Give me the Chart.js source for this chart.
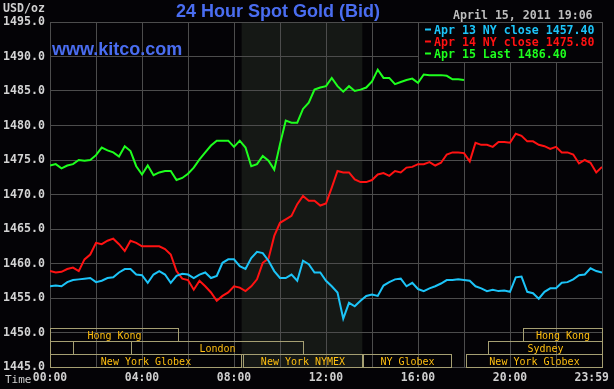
<!DOCTYPE html>
<html>
<head>
<meta charset="utf-8">
<script src="https://cdn.jsdelivr.net/npm/chart.js@4"></script>
<style>
  html, body { margin: 0; padding: 0; background: #040306; }
  canvas { display: block; }
</style>
</head>
<body>
<canvas id="goldChart" width="614" height="389"></canvas>
<script>
// 15 minute samples, hour 0 = 00:00
const minutesPerSample = 15;

const seriesLabels = ['Apr 13 NY close 1457.40', 'Apr 14 NY close 1475.80', 'Apr 15 Last 1486.40'];
const seriesColors = ['#1cc4f8', '#ff1212', '#1eff1e'];

const apr13 = [1456.7, 1456.8, 1456.7, 1457.3,
  1457.6, 1457.7, 1457.8, 1457.9,
  1457.3, 1457.5, 1457.9, 1458.0,
  1458.7, 1459.2, 1459.2, 1458.4,
  1458.3, 1457.2, 1458.4, 1458.9,
  1458.4, 1457.2, 1458.2, 1458.5,
  1458.4, 1457.9, 1458.4, 1458.7,
  1457.9, 1458.2, 1460.1, 1460.6,
  1460.6, 1459.6, 1459.2, 1460.8,
  1461.7, 1461.5, 1460.4, 1458.9,
  1457.9, 1457.9, 1458.4, 1457.5,
  1460.4, 1459.9, 1458.7, 1458.7,
  1457.5, 1456.7, 1455.8, 1452.0,
  1454.3, 1453.8, 1454.6, 1455.3,
  1455.5, 1455.3, 1456.8, 1457.3,
  1457.7, 1457.8, 1456.7, 1457.2,
  1456.3, 1456.0, 1456.4, 1456.7,
  1457.1, 1457.6, 1457.6, 1457.7,
  1457.6, 1457.5, 1456.7, 1456.4,
  1456.0, 1456.2, 1456.0, 1456.1,
  1455.9, 1458.0, 1458.1, 1455.9,
  1455.7, 1454.9, 1455.9, 1456.4,
  1456.4, 1457.2, 1457.3, 1457.7,
  1458.3, 1458.4, 1459.3, 1458.9,
  1458.7];

const apr14 = [1458.9, 1458.7, 1458.8, 1459.2,
  1459.4, 1458.9, 1460.6, 1461.3,
  1463.0, 1462.8, 1463.3, 1463.6,
  1462.8, 1461.8, 1463.3, 1463.0,
  1462.5, 1462.5, 1462.5, 1462.5,
  1462.1, 1461.3, 1458.9, 1457.8,
  1457.6, 1456.2, 1457.5, 1456.7,
  1455.8, 1454.6, 1455.3, 1455.8,
  1456.7, 1456.5, 1456.0, 1456.7,
  1457.7, 1460.1, 1460.7, 1464.0,
  1465.9, 1466.4, 1466.9, 1468.6,
  1469.8, 1469.1, 1469.1, 1468.4,
  1468.7, 1471.0, 1473.4, 1473.2,
  1473.2, 1472.2, 1471.8, 1471.8,
  1472.1, 1472.9, 1473.1, 1472.7,
  1473.4, 1473.2, 1473.9, 1474.0,
  1474.4, 1474.4, 1474.7, 1474.2,
  1474.6, 1475.8, 1476.1, 1476.1,
  1476.0, 1474.8, 1477.5, 1477.2,
  1477.2, 1476.9, 1477.6, 1477.6,
  1477.5, 1478.8, 1478.5, 1477.7,
  1477.7, 1477.2, 1477.0, 1476.6,
  1476.9, 1476.1, 1476.1, 1475.8,
  1474.5, 1475.0, 1474.6, 1473.2,
  1474.0];

const apr15 = [1474.2, 1474.4, 1473.8, 1474.2,
  1474.4, 1475.0, 1474.9, 1475.0,
  1475.7, 1476.8, 1476.4, 1476.1,
  1475.5, 1477.0, 1476.3, 1474.1,
  1472.9, 1474.2, 1472.8, 1473.2,
  1473.4, 1473.4, 1472.1, 1472.4,
  1473.0, 1473.9, 1475.1, 1476.1,
  1477.1, 1477.8, 1477.8, 1477.8,
  1476.9, 1477.8, 1476.8, 1474.1,
  1474.4, 1475.6, 1474.9, 1473.6,
  1477.3, 1480.7, 1480.4, 1480.4,
  1482.4, 1483.3, 1485.2, 1485.5,
  1485.7, 1486.9, 1485.7, 1484.9,
  1485.7, 1485.0, 1485.2, 1485.5,
  1486.4, 1488.1, 1486.9, 1486.9,
  1486.0, 1486.3, 1486.6, 1486.8,
  1486.2, 1487.4, 1487.3, 1487.3,
  1487.3, 1487.2, 1486.7, 1486.7,
  1486.6];

const xTickHours = [0, 4, 8, 12, 16, 20, 24];
const xTickLabels = ['00:00', '04:00', '08:00', '12:00', '16:00', '20:00', '23:59'];

// NYMEX pit hours (shaded)
const pitOpen = 8.33;
const pitClose = 13.58;

// trading sessions along the bottom
const sessionNames = ['Hong Kong', 'Hong Kong', '', '', 'London', 'Sydney',
  'New York Globex', 'New York NYMEX', 'NY Globex', 'New York Globex'];
const sessionStart = [0, 20.55, 0, 1.0, 3.52, 19.04, 0, 8.39, 13.6, 18.09];
const sessionEnd = [5.57, 24, 1.0, 3.52, 11.0, 24, 8.3, 13.55, 17.43, 24];
const sessionRow = [0, 0, 1, 1, 1, 1, 2, 2, 2, 2];

const gridColor = '#4c4c4c';
const monoFont = '"DejaVu Sans Mono", monospace';

function toPoints(values) {
  return values.map((v, i) => ({ x: i * minutesPerSample / 60, y: v }));
}

const decorations = {
  id: 'decorations',
  beforeDraw(chart) {
    const { ctx, chartArea: a, scales: { x } } = chart;
    ctx.save();
    ctx.fillStyle = '#040306';
    ctx.fillRect(0, 0, chart.width, chart.height);
    const x0 = x.getPixelForValue(pitOpen);
    const x1 = x.getPixelForValue(pitClose);
    ctx.fillStyle = '#151815';
    ctx.fillRect(x0, a.top, x1 - x0, a.bottom - a.top);
    ctx.restore();
  },
  afterDatasetsDraw(chart) {
    const { ctx, chartArea: a, scales: { x } } = chart;
    ctx.save();

    // session boxes
    const rowH = 13;
    ctx.lineWidth = 1;
    ctx.strokeStyle = '#a59f72';
    ctx.font = '10px ' + monoFont;
    ctx.textAlign = 'center';
    ctx.textBaseline = 'middle';
    for (let i = 0; i < sessionNames.length; i++) {
      const l = Math.round(x.getPixelForValue(sessionStart[i])) + 0.5;
      const r = Math.round(x.getPixelForValue(sessionEnd[i])) + 0.5;
      const top = Math.round(a.bottom - (3 - sessionRow[i]) * rowH) + 0.5;
      ctx.strokeRect(l, top, r - l, rowH);
      if (sessionNames[i]) {
        ctx.fillStyle = '#ffbf10';
        ctx.fillText(sessionNames[i], (l + r) / 2, top + rowH / 2 + 1);
      }
    }

    // legend box
    const lx = x.getPixelForValue(16), ly = a.top;
    const lw = a.right - lx, lh = 40;
    ctx.fillStyle = '#040306';
    ctx.fillRect(lx, ly, lw, lh);
    ctx.strokeStyle = gridColor;
    ctx.strokeRect(Math.round(lx) + 0.5, ly + 0.5, Math.round(lw), lh);
    ctx.font = 'bold 11.6px ' + monoFont;
    ctx.textAlign = 'left';
    chart.data.datasets.forEach((ds, i) => {
      const cy = ly + 7.5 + i * 12;
      ctx.fillStyle = ds.borderColor;
      ctx.fillRect(lx + 7, cy - 1, 6, 2);
      ctx.fillText(ds.label, lx + 16, cy + 1);
    });
    ctx.restore();
  },
  afterDraw(chart) {
    const { ctx } = chart;
    ctx.save();
    ctx.textBaseline = 'alphabetic';
    ctx.fillStyle = '#4a6df0';
    ctx.font = 'bold 18px "Liberation Sans", Arial, sans-serif';
    ctx.textAlign = 'center';
    ctx.fillText('24 Hour Spot Gold (Bid)', 278, 17);
    ctx.textAlign = 'left';
    ctx.fillText('www.kitco.com', 52, 55);

    ctx.fillStyle = '#cfcfcf';
    ctx.font = 'bold 11.6px ' + monoFont;
    ctx.textBaseline = 'middle';
    ctx.fillText('USD/oz', 3, 9);
    ctx.fillStyle = '#bdbdbd';
    ctx.fillText('April 15, 2011 19:06', 453, 16);
    ctx.font = '11px ' + monoFont;
    ctx.fillStyle = '#cfcfcf';
    ctx.fillText('Time', 5, 380);
    ctx.restore();
  }
};

const ctx = document.getElementById('goldChart').getContext('2d');
new Chart(ctx, {
  type: 'line',
  data: {
    datasets: [apr13, apr14, apr15].map((values, i) => ({
      label: seriesLabels[i],
      data: toPoints(values),
      borderColor: seriesColors[i],
      borderWidth: 2,
      pointRadius: 0,
      tension: 0,
      fill: false
    }))
  },
  options: {
    responsive: false,
    animation: false,
    events: [],
    layout: { padding: { top: 22, right: 12, left: 0, bottom: 0 } },
    plugins: {
      legend: { display: false },
      tooltip: { enabled: false }
    },
    scales: {
      x: {
        type: 'linear',
        min: 0,
        max: 24,
        afterFit: function (s) { s.height = 22; s.paddingLeft = 0; s.paddingRight = 0; },
        grid: { color: gridColor, drawTicks: false },
        border: { color: gridColor },
        ticks: {
          stepSize: 2,
          autoSkip: false,
          maxRotation: 0,
          padding: 4,
          color: '#cfcfcf',
          font: { family: monoFont, size: 11.4, weight: 'bold' },
          callback: function (value) {
            const idx = xTickHours.indexOf(value);
            if (idx < 0) return '';
            // last label is pulled left, inside the picture
            return idx === xTickHours.length - 1 ? xTickLabels[idx] + '   ' : xTickLabels[idx];
          }
        }
      },
      y: {
        min: 1445,
        max: 1495,
        afterFit: function (s) { s.width = 50; },
        grid: { color: gridColor, drawTicks: false },
        border: { color: gridColor },
        ticks: {
          stepSize: 5,
          padding: 5,
          color: '#d4d4d4',
          font: { family: monoFont, size: 11.6, weight: 'bold' },
          callback: function (value) { return value.toFixed(1); }
        }
      }
    }
  },
  plugins: [decorations]
});
</script>
</body>
</html>
